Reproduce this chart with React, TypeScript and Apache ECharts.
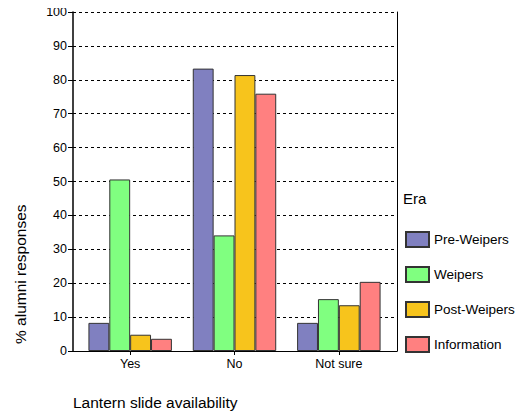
import React, { useEffect, useRef } from "react";
import * as echarts from "echarts";

const categories = ["Yes", "No", "Not sure"];
const seriesNames = ["Pre-Weipers", "Weipers", "Post-Weipers", "Information"];
const preWeipers = [8.3, 83.3, 8.3];
const weipers = [50.6, 34.1, 15.3];
const postWeipers = [4.8, 81.4, 13.5];
const information = [3.6, 75.9, 20.4];
const colors = ["#8080C0", "#80FF80", "#F7C41C", "#FF8080"];
const yTicks = { min: 0, max: 100, interval: 10 };

export default function App() {
  const ref = useRef<HTMLDivElement>(null);
  useEffect(() => {
    const chart = echarts.init(ref.current!, null, { renderer: "svg" });
    const font = "'Liberation Sans', Arial, sans-serif";
    const data = [preWeipers, weipers, postWeipers, information];
    chart.setOption({
      animation: false,
      textStyle: { fontFamily: font },
      grid: [
        { left: 78, top: 12, width: 313, height: 339 },
        { left: 73, top: 12, width: 324, height: 339 },
      ],
      xAxis: [
        {
          type: "category",
          gridIndex: 0,
          data: categories,
          axisLine: { show: false },
          axisTick: { show: true, alignWithLabel: true, length: 4, lineStyle: { color: "#000" } },
          axisLabel: { color: "#000", fontSize: 12.5, fontFamily: font, margin: 6 },
        },
        {
          type: "value",
          gridIndex: 1,
          min: 0,
          max: 1,
          axisLine: { show: true, lineStyle: { color: "#000", width: 1 } },
          axisTick: { show: false },
          axisLabel: { show: false },
          splitLine: { show: false },
        },
      ],
      yAxis: [
        {
          type: "value",
          gridIndex: 0,
          min: 0,
          max: 100,
          show: false,
        },
        {
          type: "value",
          gridIndex: 1,
          min: yTicks.min,
          max: yTicks.max,
          interval: yTicks.interval,
          axisLine: { show: true, lineStyle: { color: "#000", width: 1.5 } },
          axisTick: { show: true, length: 5, lineStyle: { color: "#000" } },
          axisLabel: { color: "#000", fontSize: 12.5, fontFamily: font, margin: 6 },
          splitLine: { show: true, lineStyle: { color: "#000", type: [3, 3], width: 1 } },
        },
        {
          type: "value",
          gridIndex: 1,
          position: "right",
          min: 0,
          max: 100,
          axisLine: { show: true, lineStyle: { color: "#000", width: 1 } },
          axisTick: { show: false },
          axisLabel: { show: false },
          splitLine: { show: false },
        },
      ],
      legend: {
        orient: "vertical",
        left: 400,
        top: 226,
        itemWidth: 23,
        itemHeight: 15,
        itemGap: 18,
        icon: "rect",
        textStyle: { color: "#000", fontSize: 13.5, lineHeight: 15, fontFamily: font },
        data: seriesNames,
      },
      graphic: [
        {
          type: "text",
          left: 403,
          top: 191,
          style: { text: "Era", fontSize: 15, fontFamily: font, fill: "#000" },
        },
        {
          type: "text",
          x: 73,
          y: 394,
          style: { text: "Lantern slide availability", fontSize: 15.5, fontFamily: font, fill: "#000" },
        },
        {
          type: "text",
          x: 12,
          y: 344,
          rotation: Math.PI / 2,
          style: { text: "% alumni responses", fontSize: 15.5, fontFamily: font, fill: "#000" },
        },
      ],
      series: seriesNames.map((name, i) => ({
        name,
        type: "bar",
        xAxisIndex: 0,
        yAxisIndex: 0,
        data: data[i],
        barGap: 0,
        barCategoryGap: "20%",
        itemStyle: { color: colors[i], borderColor: "#333", borderWidth: 1 },
      })),
    });
    return () => chart.dispose();
  }, []);
  return <div ref={ref} style={{ width: 524, height: 419, margin: -8 }} />;
}
